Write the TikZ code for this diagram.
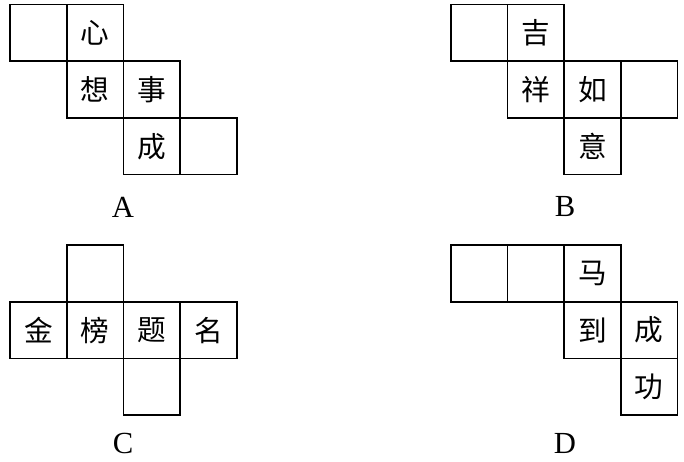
\documentclass[tikz,border=0pt]{standalone}
\usepackage{fontspec}
\setmainfont{Liberation Serif}
\newfontfamily\cjk{Noto Sans CJK SC}
\begin{document}
\begin{tikzpicture}[x=0.75pt,y=-0.75pt,
  cell/.style={draw,line width=1.3pt,minimum size=42.5pt,inner sep=0pt,anchor=center,font=\cjk\fontsize{21.5}{21.5}\selectfont},
  lab/.style={inner sep=0pt,anchor=center,font=\fontsize{23}{23}\selectfont}]
\useasboundingbox (0,0) rectangle (684,461);
% A
\node[cell] (a1) at (38.35,32.85) {};
\node[cell] (a2) at (95.05,32.85) {心};
\node[cell] (a3) at (95.05,89.55) {想};
\node[cell] (a4) at (151.75,89.55) {事};
\node[cell] (a5) at (151.75,146.25) {成};
\node[cell] (a6) at (208.45,146.25) {};
\node[lab] (la) at (123,207) {A};
% B
\node[cell] (b1) at (479.05,32.85) {};
\node[cell] (b2) at (535.75,32.85) {吉};
\node[cell] (b3) at (535.75,89.55) {祥};
\node[cell] (b4) at (592.45,89.55) {如};
\node[cell] (b5) at (649.15,89.55) {};
\node[cell] (b6) at (592.45,146.25) {意};
\node[lab] (lb) at (565,206) {B};
% C
\node[cell] (c1) at (95.05,273.35) {};
\node[cell] (c2) at (38.35,330.05) {金};
\node[cell] (c3) at (95.05,330.05) {榜};
\node[cell] (c4) at (151.75,330.05) {题};
\node[cell] (c5) at (208.45,330.05) {名};
\node[cell] (c6) at (151.75,386.75) {};
\node[lab] (lc) at (123,443) {C};
% D
\node[cell] (d1) at (479.05,273.35) {};
\node[cell] (d2) at (535.75,273.35) {};
\node[cell] (d3) at (592.45,273.35) {马};
\node[cell] (d4) at (592.45,330.05) {到};
\node[cell] (d5) at (649.15,330.05) {成};
\node[cell] (d6) at (649.15,386.75) {功};
\node[lab] (ld) at (565,443) {D};
\end{tikzpicture}
\end{document}
